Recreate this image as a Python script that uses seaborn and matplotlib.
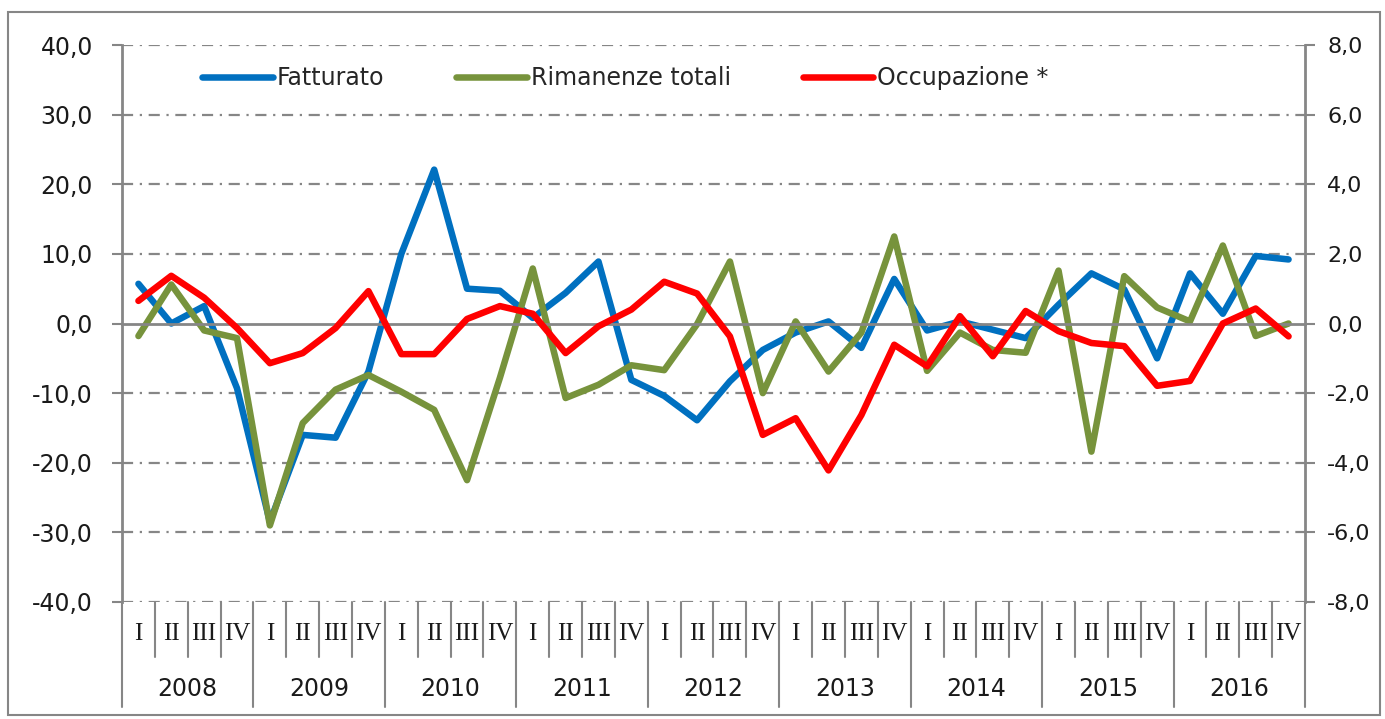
import matplotlib
matplotlib.use('Agg')
import matplotlib.pyplot as plt
import matplotlib.transforms as mtransforms
from matplotlib.patches import Rectangle
import seaborn as sns
import pandas as pd
import numpy as np

# dati trimestrali 2008-2016
anni = ['2008', '2009', '2010', '2011', '2012', '2013', '2014', '2015', '2016']
trimestri = ['I', 'II', 'III', 'IV']

fatturato = [5.7, 0.0, 2.5, -9.3, -28.5, -16.0, -16.4, -6.9,
             10.0, 22.1, 5.0, 4.7, 0.8, 4.4, 8.9, -8.1,
             -10.4, -13.9, -8.3, -3.8, -1.3, 0.3, -3.5, 6.4,
             -1.0, 0.3, -0.9, -2.1, 2.7, 7.2, 4.9, -5.0,
             7.2, 1.4, 9.7, 9.2]

rimanenze = [-1.8, 5.6, -1.0, -2.1, -29.0, -14.3, -9.5, -7.4,
             -9.8, -12.4, -22.5, -7.8, 7.9, -10.7, -8.8, -6.0,
             -6.7, -0.1, 8.9, -10.0, 0.3, -6.9, -1.3, 12.5,
             -6.8, -1.3, -3.8, -4.2, 7.6, -18.4, 6.8, 2.3,
             0.3, 11.2, -1.8, 0.0]

occupazione = [0.65, 1.37, 0.74, -0.13, -1.14, -0.85, -0.13, 0.93,
               -0.88, -0.88, 0.13, 0.50, 0.28, -0.85, -0.08, 0.40,
               1.20, 0.86, -0.37, -3.20, -2.72, -4.22, -2.63, -0.61,
               -1.23, 0.21, -0.94, 0.36, -0.22, -0.56, -0.65, -1.79,
               -1.65, 0.00, 0.43, -0.37]

df = pd.DataFrame({
    'idx': np.arange(len(fatturato)),
    'Fatturato': fatturato,
    'Rimanenze totali': rimanenze,
    'Occupazione *': occupazione,
})

sns.set_style('white')
plt.rcParams['font.family'] = ['DejaVu Sans']

W, H = 1385, 719
fig = plt.figure(figsize=(W / 100, H / 100), dpi=100)
x0, x1, y0, y1 = 122, 1305, 45, 602
ax = fig.add_axes([x0 / W, 1 - y1 / H, (x1 - x0) / W, (y1 - y0) / H])
ax2 = ax.twinx()

grigio = '#868686'
blu, verde, rosso = '#0070C0', '#77933C', '#FF0000'
lw = 4.7

sns.lineplot(data=df, x='idx', y='Fatturato', ax=ax, color=blu, linewidth=lw, label='Fatturato', legend=False)
sns.lineplot(data=df, x='idx', y='Rimanenze totali', ax=ax, color=verde, linewidth=lw, label='Rimanenze totali', legend=False)
sns.lineplot(data=df, x='idx', y='Occupazione *', ax=ax2, color=rosso, linewidth=lw, label='Occupazione *', legend=False)

ax.set_xlim(-0.5, len(fatturato) - 0.5)
ax.set_ylim(-40, 40)
ax2.set_ylim(-8, 8)

yt = np.arange(-40, 41, 10)
ax.set_yticks(yt)
ax.set_yticklabels([f'{v:.1f}'.replace('.', ',') for v in yt], fontsize=17)
yt2 = np.arange(-8, 9, 2)
ax2.set_yticks(yt2)
ax2.set_yticklabels([f'{v:.1f}'.replace('.', ',') for v in yt2], fontsize=16)

# griglia tratto-punto
for v in yt:
    if v != 0:
        ax.axhline(v, color=grigio, linewidth=1.6, linestyle=(0, (5, 3, 1, 3)), zorder=0)

ax.set_xlabel('')
ax.set_ylabel('')
ax2.set_ylabel('')

# asse categorie sullo zero
ax.spines['bottom'].set_position(('data', 0))
ax.spines['bottom'].set_color(grigio)
ax.spines['bottom'].set_linewidth(2)
ax.set_xticks(np.arange(-0.5, len(fatturato), 1))
ax.tick_params(axis='x', direction='out', length=5, width=1.2, color=grigio, labelbottom=False)
ax.tick_params(axis='y', direction='out', length=7, width=1.5, color=grigio, pad=14, labelcolor='#1a1a1a')
ax2.tick_params(axis='y', direction='out', length=7, width=1.5, color=grigio, pad=9, labelcolor='#1a1a1a')

for a in (ax, ax2):
    a.spines['top'].set_visible(False)
    a.spines['left'].set_color(grigio)
    a.spines['right'].set_color(grigio)
    a.spines['left'].set_linewidth(2)
    a.spines['right'].set_linewidth(2)
ax2.spines['bottom'].set_visible(False)
ax.spines['right'].set_visible(False)
ax2.spines['left'].set_visible(False)

# etichette trimestri e anni sotto il grafico
trans = mtransforms.blended_transform_factory(ax.transData, ax.transAxes)
h = y1 - y0
for i in range(len(fatturato)):
    ax.text(i, -(634 - y1) / h, trimestri[i % 4], transform=trans, ha='center', va='center',
            fontsize=18, family='Liberation Serif', color='#1a1a1a')
for j, anno in enumerate(anni):
    ax.text(4 * j + 1.5, -(689 - y1) / h, anno, transform=trans, ha='center', va='center',
            fontsize=17, color='#1a1a1a')
for k in range(len(fatturato) + 1):
    fine = (707 - y1) / h if k % 4 == 0 else (657 - y1) / h
    ax.plot([k - 0.5, k - 0.5], [0, -fine], transform=trans, color=grigio,
            linewidth=1.5, clip_on=False)

handles = [l for l in ax.get_lines() if l.get_label() in ('Fatturato', 'Rimanenze totali')] + \
          [l for l in ax2.get_lines() if l.get_label() == 'Occupazione *']
ax2.legend(handles=handles, labels=[l.get_label() for l in handles], ncol=3, frameon=False,
           loc='center left', bbox_to_anchor=(181 / W, 1 - 78 / H), bbox_transform=fig.transFigure,
           fontsize=17, handlelength=3.0, handletextpad=0.15, columnspacing=3.05)

fig.patches.append(Rectangle((8 / W, 1 - 715 / H), (1380 - 8) / W, (715 - 12) / H,
                             transform=fig.transFigure, fill=False, edgecolor=grigio, linewidth=1.5))

fig.savefig('out.png', dpi=100)
